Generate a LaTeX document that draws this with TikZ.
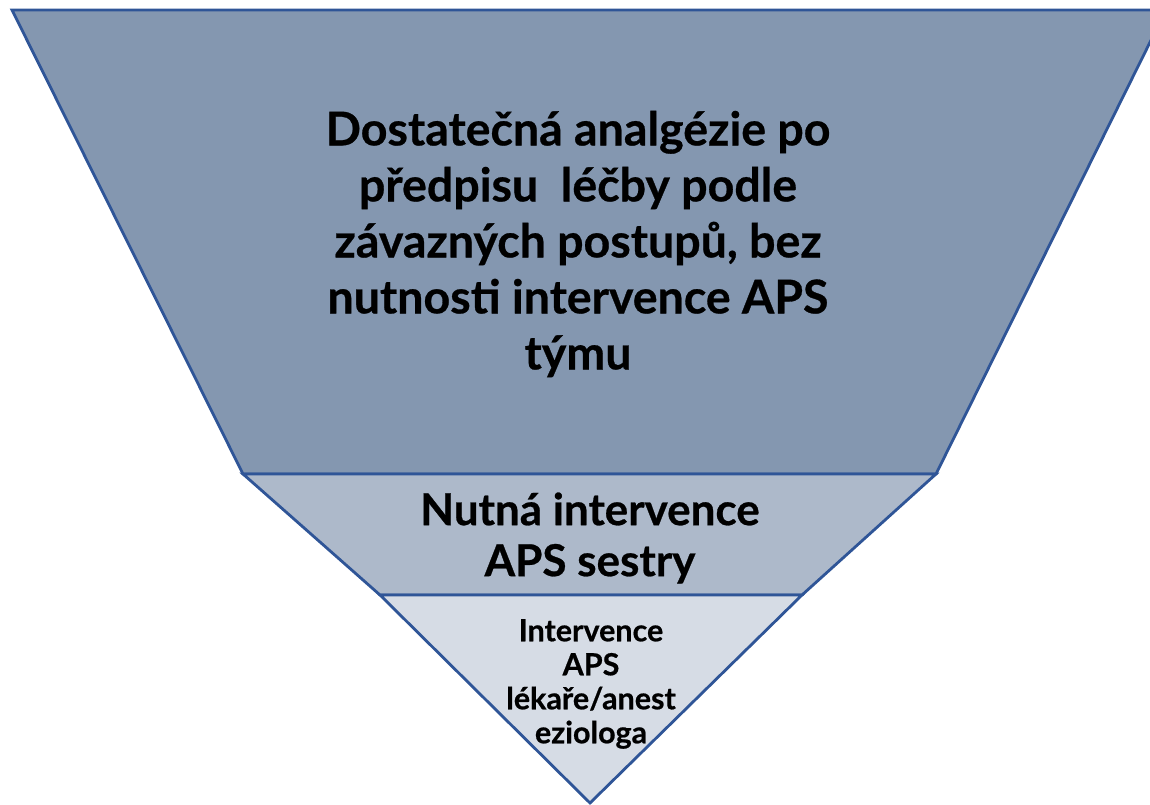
\documentclass[tikz,border=0pt]{standalone}
\usepackage{fontspec}
\setmainfont{Lato}[BoldFeatures={FakeBold=0.6}]
\definecolor{edgeblue}{HTML}{2F5597}
\definecolor{fillA}{HTML}{8497B0}
\definecolor{fillB}{HTML}{ADB9CA}
\definecolor{fillC}{HTML}{D6DCE5}
\begin{document}
\begin{tikzpicture}[x=1pt,y=-1pt,
  layer/.style={draw=edgeblue,line width=2.8pt,line join=miter},
  lbl/.style={align=center,font=\bfseries,text=black,inner sep=0pt}]
\useasboundingbox (0,0) rectangle (1150,805);
\coordinate (a1) at (12,10);
\coordinate (a2) at (1166,10);
\coordinate (b1) at (243,474);
\coordinate (b2) at (936,474);
\coordinate (c1) at (380,595);
\coordinate (c2) at (802,595);
\coordinate (d) at (590,803);
\filldraw[layer,fill=fillA] (a1) -- (a2) -- (b2) -- (b1) -- cycle;
\filldraw[layer,fill=fillB] (b1) -- (b2) -- (c2) -- (c1) -- cycle;
\filldraw[layer,fill=fillC] (c1) -- (c2) -- (d) -- cycle;
\node[lbl,font=\fontsize{46.5}{56}\selectfont\bfseries] (t1) at (578,244)
  {Dostatečná analgézie po\\předpisu\ \ léčby podle\\závazných postupů, bez\\nutnosti intervence APS\\týmu};
\node[lbl,font=\fontsize{44}{51}\selectfont\bfseries] (t2) at (590,538)
  {Nutná intervence\\APS sestry};
\node[lbl,font=\fontsize{30.5}{34}\selectfont\bfseries] (t3) at (591,684)
  {Intervence\\APS\\lékaře/anest\\eziologa};
\end{tikzpicture}
\end{document}
